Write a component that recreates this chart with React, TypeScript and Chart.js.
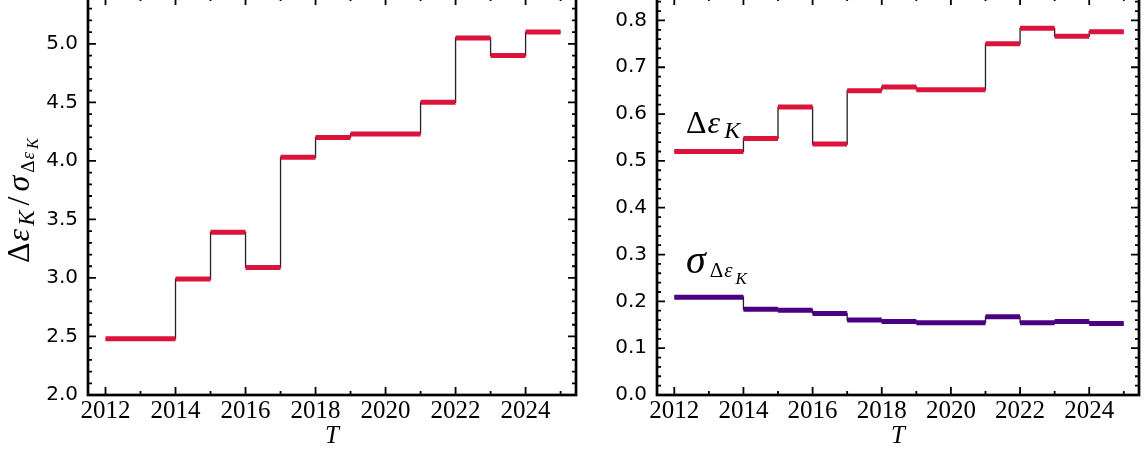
import React, { useEffect, useRef } from "react";
import { Chart, registerables } from "chart.js";

Chart.register(...registerables);

// ---------- data ----------
// step edges (years); segment i spans edges[i] .. edges[i+1]
const stepEdges = [2012, 2014, 2015, 2016, 2017, 2018, 2019, 2021, 2022, 2023, 2024, 2025];
const ratioValues = [2.48, 2.99, 3.39, 3.09, 4.03, 4.2, 4.23, 4.5, 5.05, 4.9, 5.1];
const deltaEpsValues = [0.52, 0.548, 0.615, 0.536, 0.65, 0.658, 0.652, 0.75, 0.783, 0.766, 0.776];
const sigmaValues = [0.209, 0.183, 0.181, 0.174, 0.16, 0.157, 0.1545, 0.167, 0.1545, 0.157, 0.1525];

const xTickValues = [2012, 2014, 2016, 2018, 2020, 2022, 2024];
const xMinorTicks = [2013, 2015, 2017, 2019, 2021, 2023, 2025];
const leftYTicks = [2.0, 2.5, 3.0, 3.5, 4.0, 4.5, 5.0];
const rightYTicks = [0.0, 0.1, 0.2, 0.3, 0.4, 0.5, 0.6, 0.7, 0.8];

const X_MIN = 2011.5;
const X_MAX = 2025.44;

const RED = "#DC143C";
const PURPLE = "#4B0082";
const SERIF = "'Liberation Serif', 'DejaVu Serif', serif";
const SANS = "'DejaVu Sans', sans-serif";

function segmentPoints(vals: number[]) {
  const pts: { x: number; y: number | null }[] = [];
  vals.forEach((v, i) => {
    pts.push({ x: stepEdges[i], y: v }, { x: stepEdges[i + 1], y: v });
    if (i < vals.length - 1) pts.push({ x: stepEdges[i + 1], y: null });
  });
  return pts;
}

function stepPoints(vals: number[]) {
  const pts = vals.map((v, i) => ({ x: stepEdges[i], y: v }));
  pts.push({ x: stepEdges[stepEdges.length - 1], y: vals[vals.length - 1] });
  return pts;
}

type Part = { t: string; size: number; italic?: boolean; dy?: number; gap?: number };

function drawRich(ctx: CanvasRenderingContext2D, x: number, y: number, parts: Part[]) {
  let cx = x;
  ctx.textBaseline = "alphabetic";
  ctx.textAlign = "left";
  for (const p of parts) {
    cx += p.gap || 0;
    ctx.font = `${p.italic ? "italic " : ""}${p.size}px ${SERIF}`;
    ctx.fillText(p.t, cx, y + (p.dy || 0));
    cx += ctx.measureText(p.t).width;
  }
}

function makeFramePlugin(minorY: number[], extra: (chart: any) => void) {
  return {
    id: "frameTicks",
    afterDraw(chart: any) {
      const { ctx, chartArea: a, scales } = chart;
      const xs = scales.x;
      const ys = scales.y;
      ctx.save();
      ctx.strokeStyle = "#000";
      ctx.lineWidth = 1.8;
      ctx.beginPath();
      const xTick = (v: number, len: number) => {
        const px = xs.getPixelForValue(v);
        ctx.moveTo(px, a.bottom);
        ctx.lineTo(px, a.bottom - len);
        ctx.moveTo(px, a.top);
        ctx.lineTo(px, a.top + len);
      };
      const yTick = (v: number, len: number) => {
        const py = ys.getPixelForValue(v);
        ctx.moveTo(a.left, py);
        ctx.lineTo(a.left + len, py);
        ctx.moveTo(a.right, py);
        ctx.lineTo(a.right - len, py);
      };
      xTickValues.forEach((v) => xTick(v, 8));
      xMinorTicks.forEach((v) => xTick(v, 4));
      ys.ticks.forEach((t: any) => yTick(t.value, 8));
      minorY.forEach((v) => yTick(v, 4));
      ctx.stroke();
      ctx.lineWidth = 2.7;
      ctx.strokeRect(a.left, a.top, a.right - a.left, a.bottom - a.top);
      ctx.fillStyle = "#000";
      // x-axis title
      ctx.font = `italic 25px ${SERIF}`;
      ctx.textAlign = "center";
      ctx.textBaseline = "alphabetic";
      ctx.fillText("T", (a.left + a.right) / 2, 453);
      extra(chart);
      ctx.restore();
    },
  };
}

function baseOptions(yMin: number, yMax: number, yTicks: number[], yWidth: number, padRight: number) {
  return {
    animation: false,
    responsive: false,
    devicePixelRatio: 1,
    layout: { padding: { top: 7, right: padRight, left: 0, bottom: 0 } },
    plugins: { legend: { display: false }, tooltip: { enabled: false } },
    scales: {
      x: {
        type: "linear",
        min: X_MIN,
        max: X_MAX,
        grid: { display: false, drawTicks: false },
        border: { display: false },
        afterBuildTicks: (s: any) => {
          s.ticks = xTickValues.map((v) => ({ value: v }));
        },
        afterFit: (s: any) => {
          s.height = 57;
          s.paddingLeft = 0;
          s.paddingRight = 0;
          s.paddingTop = 0;
          s.paddingBottom = 0;
        },
        ticks: {
          autoSkip: false,
          maxRotation: 0,
          padding: 1,
          color: "#000",
          font: { family: SERIF, size: 25 },
          callback: (v: any) => String(v),
        },
      },
      y: {
        type: "linear",
        min: yMin,
        max: yMax,
        grid: { display: false, drawTicks: false },
        border: { display: false },
        afterBuildTicks: (s: any) => {
          s.ticks = yTicks.map((v) => ({ value: v }));
        },
        afterFit: (s: any) => {
          s.width = yWidth;
          s.paddingLeft = 0;
          s.paddingRight = 0;
          s.paddingTop = 0;
          s.paddingBottom = 0;
        },
        ticks: {
          padding: 10,
          color: "#000",
          font: { family: SANS, size: 20 },
          callback: (v: any) => Number(v).toFixed(1),
        },
      },
    },
  };
}

function colorSegments(vals: number[], color: string) {
  return {
    data: segmentPoints(vals),
    borderColor: color,
    borderWidth: 5,
    borderCapStyle: "butt",
    pointRadius: 0,
    spanGaps: false,
    order: 0,
  };
}

function blackSteps(vals: number[]) {
  return {
    data: stepPoints(vals),
    borderColor: "#222",
    borderWidth: 1.3,
    stepped: "before",
    pointRadius: 0,
    order: 5,
  };
}

function range(a: number, b: number, step: number, skip: number[]) {
  const out: number[] = [];
  const n = Math.round((b - a) / step);
  for (let i = 0; i <= n; i++) {
    const v = +(a + i * step).toFixed(4);
    if (!skip.some((s) => Math.abs(s - v) < 1e-6)) out.push(v);
  }
  return out;
}

export default function App() {
  const leftRef = useRef<HTMLCanvasElement>(null);
  const rightRef = useRef<HTMLCanvasElement>(null);

  useEffect(() => {
    const leftMinor = range(2.0, 5.4, 0.1, leftYTicks);
    const rightMinor = range(0.0, 0.84, 0.02, rightYTicks);

    const left = new Chart(leftRef.current as HTMLCanvasElement, {
      type: "line",
      data: { datasets: [colorSegments(ratioValues, RED), blackSteps(ratioValues)] as any },
      options: baseOptions(2.0, 5.4, leftYTicks, 88, 4) as any,
      plugins: [
        makeFramePlugin(leftMinor, (chart: any) => {
          const ctx = chart.ctx as CanvasRenderingContext2D;
          ctx.save();
          ctx.translate(29, 273);
          ctx.rotate(-Math.PI / 2);
          drawRich(ctx, 0, 0, [
            { t: "Δ", size: 32 },
            { t: "ε", size: 32, italic: true, gap: 1 },
            { t: "K", size: 23, italic: true, dy: 5, gap: 3 },
            { t: "/", size: 32, gap: 5 },
            { t: "σ", size: 32, italic: true, gap: 5 },
            { t: "Δ", size: 19, dy: 5, gap: 3 },
            { t: "ε", size: 19, italic: true, dy: 5, gap: 1 },
            { t: "K", size: 16, italic: true, dy: 9, gap: 3 },
          ]);
          ctx.restore();
        }) as any,
      ],
    });

    const right = new Chart(rightRef.current as HTMLCanvasElement, {
      type: "line",
      data: {
        datasets: [
          colorSegments(deltaEpsValues, RED),
          colorSegments(sigmaValues, PURPLE),
          blackSteps(deltaEpsValues),
          blackSteps(sigmaValues),
        ] as any,
      },
      options: baseOptions(0.0, 0.85, rightYTicks, 77, 5) as any,
      plugins: [
        makeFramePlugin(rightMinor, (chart: any) => {
          const ctx = chart.ctx as CanvasRenderingContext2D;
          const xs = chart.scales.x;
          const ys = chart.scales.y;
          drawRich(ctx, xs.getPixelForValue(2012.34), ys.getPixelForValue(0.559), [
            { t: "Δ", size: 32 },
            { t: "ε", size: 32, italic: true, gap: 1 },
            { t: "K", size: 24, italic: true, dy: 5, gap: 4 },
          ]);
          drawRich(ctx, xs.getPixelForValue(2012.34), ys.getPixelForValue(0.261), [
            { t: "σ", size: 40, italic: true },
            { t: "Δ", size: 21, dy: 4, gap: 4 },
            { t: "ε", size: 21, italic: true, dy: 4, gap: 1 },
            { t: "K", size: 17, italic: true, dy: 11, gap: 3 },
          ]);
        }) as any,
      ],
    });

    return () => {
      left.destroy();
      right.destroy();
    };
  }, []);

  return (
    <div
      style={{
        position: "fixed",
        left: 0,
        top: 0,
        width: 1144,
        height: 452,
        overflow: "hidden",
        background: "#fff",
      }}
    >
      <canvas ref={leftRef} width={580} height={462} style={{ position: "absolute", left: 0, top: -10 }} />
      <canvas ref={rightRef} width={564} height={462} style={{ position: "absolute", left: 580, top: -10 }} />
    </div>
  );
}
